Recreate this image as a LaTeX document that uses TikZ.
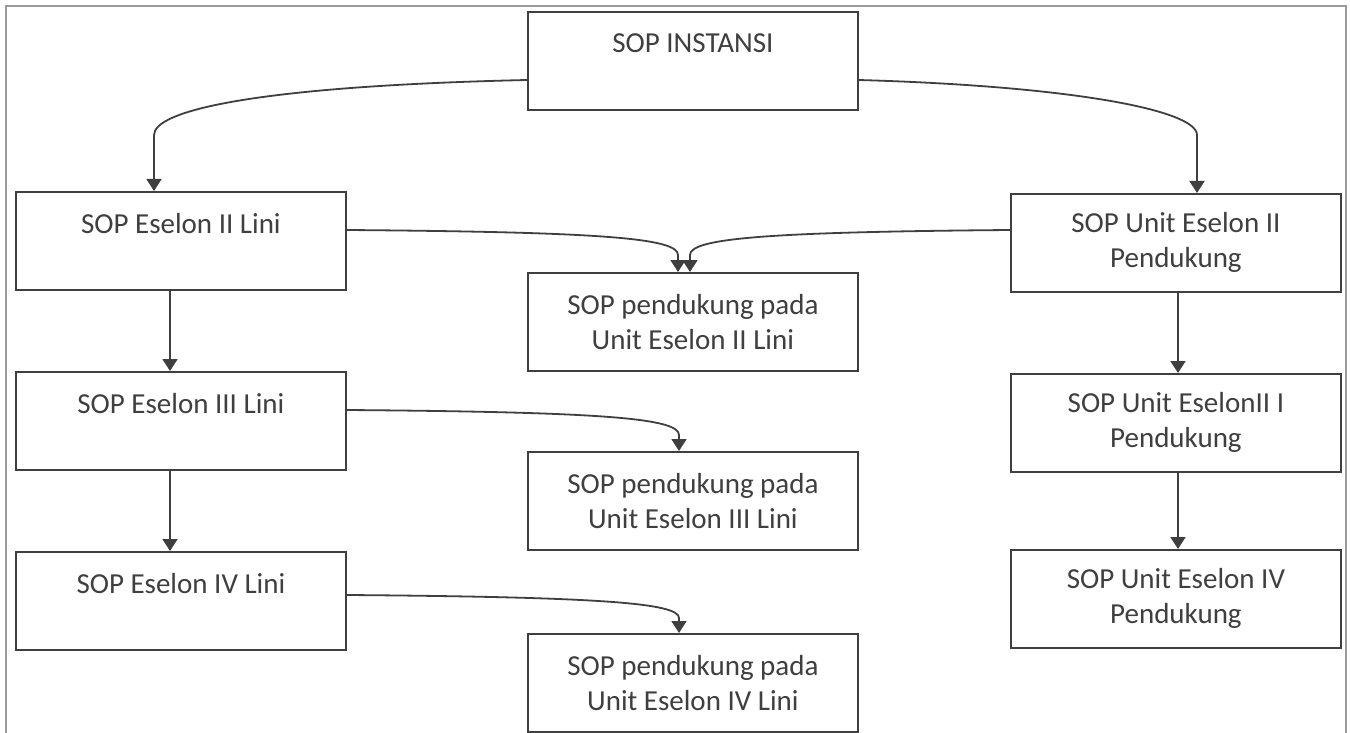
\documentclass[tikz,border=0pt]{standalone}
\usepackage{fontspec}
\setmainfont{Carlito}
\usetikzlibrary{arrows.meta}
\definecolor{ink}{HTML}{3F3F3F}
\definecolor{frame}{HTML}{9A9A9A}
\begin{document}
\begin{tikzpicture}[x=1pt,y=-1pt,
  box/.style={draw=ink, line width=1.8pt, anchor=north west, minimum width=330pt,
    minimum height=98pt, align=center, text=ink, inner sep=0pt,
    font=\fontsize{29}{35}\selectfont},
  link/.style={draw=ink, line width=1.8pt, -{Triangle[width=15pt,length=12pt]}}]
  \useasboundingbox (0,0) rectangle (1350,733);
  \fill[white] (0,0) rectangle (1350,733);
  % page frame
  \draw[frame, line width=1.5pt] (6,733) -- (6,6) -- (1346,6) -- (1346,733);

  % boxes
  \node[box] (inst) at (527,11) {SOP INSTANSI\\\mbox{}};
  \node[box] (l2) at (15,191) {SOP Eselon II Lini\\\mbox{}};
  \node[box] (l3) at (15,371) {SOP Eselon III Lini\\\mbox{}};
  \node[box] (l4) at (15,551) {SOP Eselon IV Lini\\\mbox{}};
  \node[box] (p2) at (527,272) {SOP pendukung pada\\Unit Eselon II Lini};
  \node[box] (p3) at (527,451) {SOP pendukung pada\\Unit Eselon III Lini};
  \node[box] (p4) at (527,633) {SOP pendukung pada\\Unit Eselon IV Lini};
  \node[box] (u2) at (1010,193) {SOP Unit Eselon II\\Pendukung};
  \node[box] (u3) at (1010,373) {SOP Unit EselonII I\\Pendukung};
  \node[box] (u4) at (1010,549) {SOP Unit Eselon IV\\Pendukung};

  % connectors from the top box
  \draw[link] (inst.west |- 0,80) .. controls (260,86) and (154,110) .. (154,135) -- (l2.north -| 154,0);
  \draw[link] (inst.east |- 0,80) .. controls (1070,86) and (1197,110) .. (1197,135) -- (u2.north -| 1197,0);

  % connectors into the support boxes
  \draw[link] (l2.east |- 0,230) .. controls (600,232) and (678,238) .. (678,255) -- (p2.north -| 678,0);
  \draw[link] (u2.west |- 0,230) .. controls (770,232) and (690,238) .. (690,255) -- (p2.north -| 690,0);
  \draw[link] (l3.east |- 0,410) .. controls (600,412) and (679,418) .. (679,435) -- (p3.north -| 679,0);
  \draw[link] (l4.east |- 0,595) .. controls (600,597) and (679,603) .. (679,618) -- (p4.north -| 679,0);

  % vertical chains
  \draw[link] (l2.south -| 170,0) -- (l3.north -| 170,0);
  \draw[link] (l3.south -| 170,0) -- (l4.north -| 170,0);
  \draw[link] (u2.south -| 1178,0) -- (u3.north -| 1178,0);
  \draw[link] (u3.south -| 1178,0) -- (u4.north -| 1178,0);
\end{tikzpicture}
\end{document}
